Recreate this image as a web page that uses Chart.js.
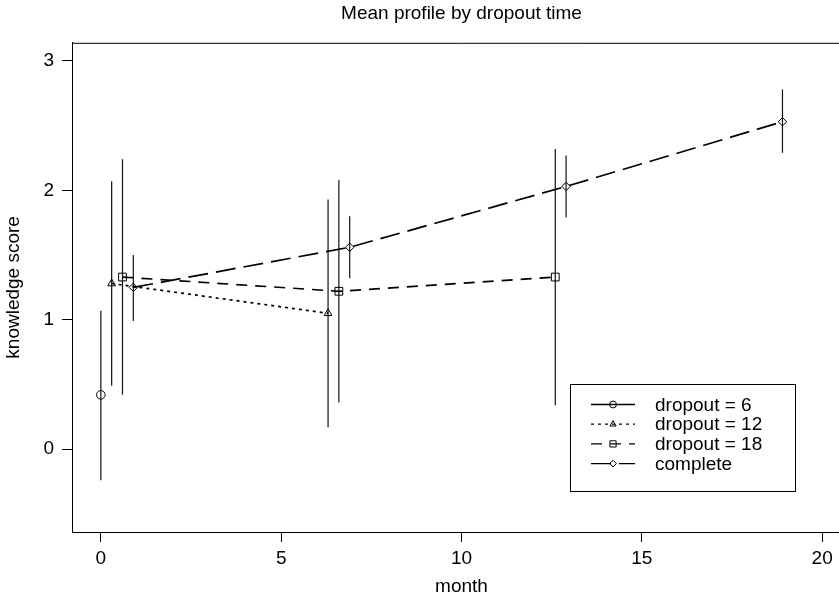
<!DOCTYPE html>
<html>
<head>
<meta charset="utf-8">
<script src="https://cdn.jsdelivr.net/npm/chart.js@4/dist/chart.umd.min.js"></script>
<style>
  html, body { margin: 0; padding: 0; background: #fff; overflow: hidden; }
  #wrap { width: 839px; height: 598px; overflow: hidden; }
</style>
</head>
<body>
<div id="wrap"><canvas id="myChart" width="860" height="598"></canvas></div>
<script>
// axis ticks
const xTicks = [0, 5, 10, 15, 20];
const yTicks = [0, 1, 2, 3];
const seriesNames = ['dropout = 6', 'dropout = 12', 'dropout = 18', 'complete'];

// dropout = 6
const monthD6 = [0];
const meanD6 = [0.42];
const lowD6 = [-0.24];
const highD6 = [1.07];

// dropout = 12
const monthD12 = [0.3, 6.3];
const meanD12 = [1.28, 1.05];
const lowD12 = [0.49, 0.17];
const highD12 = [2.07, 1.93];

// dropout = 18
const monthD18 = [0.6, 6.6, 12.6];
const meanD18 = [1.33, 1.22, 1.33];
const lowD18 = [0.42, 0.36, 0.34];
const highD18 = [2.24, 2.08, 2.32];

// complete
const monthComp = [0.9, 6.9, 12.9, 18.9];
const meanComp = [1.25, 1.56, 2.03, 2.53];
const lowComp = [0.99, 1.32, 1.79, 2.29];
const highComp = [1.50, 1.80, 2.27, 2.78];

const FONT = "'Liberation Sans', Arial, sans-serif";

const styles = [
  { pointStyle: 'circle',   radius: 4.3, dash: [] },
  { pointStyle: 'triangle', radius: 4.5, dash: [3, 4] },
  { pointStyle: 'rect',     radius: 5.5, dash: [11, 8] },
  { pointStyle: 'rectRot',  radius: 4.2, dash: [20, 8] }
];

function makeSeries(i, xs, ys) {
  const s = styles[i];
  return {
    label: seriesNames[i],
    data: xs.map((x, k) => ({ x: x, y: ys[k] })),
    borderColor: '#000',
    borderWidth: 1.7,
    borderDash: s.dash,
    pointStyle: s.pointStyle,
    pointRadius: s.radius,
    pointBorderColor: '#000',
    pointBackgroundColor: 'rgba(0,0,0,0)',
    pointBorderWidth: 1,
    tension: 0,
    fill: false
  };
}

// vertical bars, one segment per mean, split by null points
function makeBars() {
  const groups = [
    [monthD6, lowD6, highD6],
    [monthD12, lowD12, highD12],
    [monthD18, lowD18, highD18],
    [monthComp, lowComp, highComp]
  ];
  const pts = [];
  groups.forEach(g => {
    g[0].forEach((x, k) => {
      pts.push({ x: x, y: g[1][k] });
      pts.push({ x: x, y: g[2][k] });
      pts.push({ x: x, y: null });
    });
  });
  return {
    label: 'bars',
    data: pts,
    borderColor: '#111',
    borderWidth: 1.2,
    pointRadius: 0,
    spanGaps: false,
    fill: false
  };
}

function marker(ctx, style, x, y, r) {
  ctx.beginPath();
  if (style === 'circle') {
    ctx.arc(x, y, r, 0, Math.PI * 2);
  } else if (style === 'triangle') {
    for (let k = 0; k < 3; k++) {
      const a = k * 2 * Math.PI / 3;
      const px = x + Math.sin(a) * r, py = y - Math.cos(a) * r;
      if (k === 0) ctx.moveTo(px, py); else ctx.lineTo(px, py);
    }
    ctx.closePath();
  } else if (style === 'rect') {
    const h = r * Math.SQRT1_2;
    ctx.rect(x - h, y - h, 2 * h, 2 * h);
  } else {
    ctx.moveTo(x, y - r); ctx.lineTo(x + r, y); ctx.lineTo(x, y + r); ctx.lineTo(x - r, y);
    ctx.closePath();
  }
  ctx.stroke();
}

const frameAndLegend = {
  id: 'frameAndLegend',
  afterDraw(chart) {
    const ctx = chart.ctx;
    const a = chart.chartArea;
    ctx.save();
    ctx.strokeStyle = '#000';
    ctx.lineWidth = 1;
    ctx.setLineDash([]);
    ctx.beginPath();
    ctx.moveTo(a.left, a.top + 0.5);
    ctx.lineTo(a.right, a.top + 0.5);
    ctx.lineTo(a.right, a.bottom);
    ctx.stroke();

    // legend box
    const bx = 570.5, by = 384.5, bw = 225, bh = 107;
    ctx.fillStyle = '#fff';
    ctx.fillRect(bx, by, bw, bh);
    ctx.strokeRect(bx, by, bw, bh);
    ctx.font = '19px ' + FONT;
    ctx.textBaseline = 'middle';
    ctx.textAlign = 'left';
    ctx.fillStyle = '#000';
    seriesNames.forEach((name, i) => {
      const y = 404.5 + i * 19.7;
      ctx.lineWidth = 1.3;
      ctx.setLineDash(styles[i].dash);
      ctx.beginPath();
      ctx.moveTo(591, y);
      ctx.lineTo(635, y);
      ctx.stroke();
      ctx.setLineDash([]);
      ctx.lineWidth = 1;
      marker(ctx, styles[i].pointStyle, 613, y, styles[i].radius * 0.8);
      ctx.fillText(name, 655, y + 1);
    });
    ctx.restore();
  }
};

new Chart(document.getElementById('myChart'), {
  type: 'line',
  data: {
    datasets: [
      makeSeries(0, monthD6, meanD6),
      makeSeries(1, monthD12, meanD12),
      makeSeries(2, monthD18, meanD18),
      makeSeries(3, monthComp, meanComp),
      makeBars()
    ]
  },
  options: {
    responsive: false,
    animation: false,
    layout: { padding: { left: 0, right: 9, top: 0, bottom: 0 } },
    plugins: {
      legend: { display: false },
      tooltip: { enabled: false },
      title: {
        display: true,
        text: 'Mean profile by dropout time',
        color: '#000',
        fullSize: false,
        font: { family: FONT, size: 19, weight: 'normal' },
        padding: { top: 2, bottom: 18 }
      }
    },
    scales: {
      x: {
        type: 'linear',
        min: -0.8,
        max: 20.8,
        afterBuildTicks: s => { s.ticks = xTicks.map(v => ({ value: v })); },
        afterFit: s => { s.height = 66; },
        ticks: { color: '#000', padding: 5, maxRotation: 0, font: { family: FONT, size: 19 } },
        grid: { drawOnChartArea: false, drawTicks: true, tickLength: 10, color: '#000', lineWidth: 1 },
        border: { display: true, color: '#000', width: 1 },
        title: {
          display: true, text: 'month', color: '#000',
          font: { family: FONT, size: 19 },
          padding: { top: 5, bottom: 0 }
        }
      },
      y: {
        type: 'linear',
        min: -0.64,
        max: 3.14,
        afterBuildTicks: s => { s.ticks = yTicks.map(v => ({ value: v })); },
        afterFit: s => { s.width = 72; },
        ticks: { color: '#000', padding: 8, font: { family: FONT, size: 19 } },
        grid: { drawOnChartArea: false, drawTicks: true, tickLength: 10, color: '#000', lineWidth: 1 },
        border: { display: true, color: '#000', width: 1 },
        title: {
          display: true, text: 'knowledge score', color: '#000',
          font: { family: FONT, size: 19 },
          padding: { top: 2, bottom: 0 }
        }
      }
    }
  },
  plugins: [frameAndLegend]
});
</script>
</body>
</html>
